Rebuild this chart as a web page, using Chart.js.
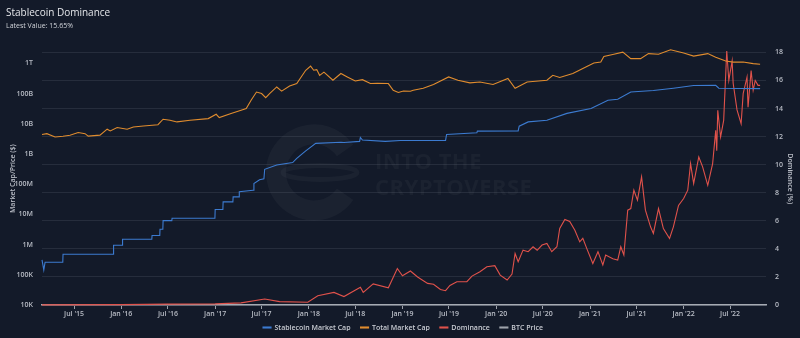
<!DOCTYPE html>
<html>
<head>
<meta charset="utf-8">
<title>Stablecoin Dominance</title>
<script src="https://cdn.jsdelivr.net/npm/chart.js@4.4.0/dist/chart.umd.min.js"></script>
<style>
  html, body { margin: 0; padding: 0; background: #131a29; }
  canvas { display: block; }
</style>
</head>
<body>
<canvas id="chart" width="800" height="338"></canvas>
<script>
// ---------- Data ----------
const stableDates = [
  '2015-02-26', '2015-03-05', '2015-03-10', '2015-05-18', '2015-05-19', '2015-12-01', '2015-12-02',
  '2016-01-05', '2016-01-06', '2016-04-29', '2016-04-30', '2016-05-30', '2016-05-31', '2016-06-11',
  '2016-06-12', '2016-07-16', '2016-07-17', '2016-12-31', '2017-01-01', '2017-01-31', '2017-02-01',
  '2017-03-11', '2017-03-12', '2017-04-04', '2017-04-05', '2017-05-29', '2017-06-01', '2017-06-23',
  '2017-07-10', '2017-07-13', '2017-08-29', '2017-10-30', '2017-11-15', '2017-12-20', '2018-01-28',
  '2018-05-06', '2018-05-18', '2018-07-18', '2018-07-21', '2018-07-29', '2018-10-26', '2018-12-24',
  '2019-06-18', '2019-06-22', '2019-10-18', '2019-10-20', '2020-03-27', '2020-03-31', '2020-05-05',
  '2020-07-17', '2020-10-03', '2021-01-05', '2021-03-12', '2021-04-19', '2021-06-09', '2021-09-05',
  '2021-11-22', '2022-02-09', '2022-05-06', '2022-05-18', '2022-10-26'
];
const stableCap = [
  3.1e5, 1.45e5, 2.6e5, 2.6e5, 4.8e5, 4.8e5, 9.5e5,
  9.5e5, 1.5e6, 1.5e6, 2.0e6, 2.0e6, 3.2e6, 3.2e6,
  6.2e6, 6.2e6, 7.4e6, 7.4e6, 1.45e7, 1.45e7, 2.6e7,
  2.6e7, 3.8e7, 3.8e7, 5.6e7, 6.3e7, 1.05e8, 1.4e8,
  1.5e8, 3.1e8, 4.3e8, 5.2e8, 7.1e8, 1.26e9, 2.24e9,
  2.45e9, 2.4e9, 2.6e9, 3.5e9, 2.9e9, 2.6e9, 2.8e9,
  2.8e9, 4.4e9, 5.0e9, 5.7e9, 5.8e9, 8.3e9, 1.15e10,
  1.3e10, 2.2e10, 3.2e10, 6.0e10, 6.5e10, 1.12e11, 1.26e11,
  1.5e11, 1.85e11, 1.86e11, 1.5e11, 1.45e11
];

const totalDates = [
  '2015-02-26', '2015-03-17', '2015-04-18', '2015-05-19', '2015-06-15', '2015-07-17', '2015-08-13',
  '2015-08-25', '2015-10-10', '2015-11-07', '2015-11-19', '2015-12-16', '2016-01-24', '2016-02-17',
  '2016-03-27', '2016-05-23', '2016-06-12', '2016-07-09', '2016-08-05', '2016-09-25', '2016-12-05',
  '2017-01-05', '2017-01-17', '2017-03-04', '2017-04-12', '2017-05-02', '2017-05-21', '2017-06-11',
  '2017-07-01', '2017-07-17', '2017-08-01', '2017-08-29', '2017-09-17', '2017-10-18', '2017-11-15',
  '2017-12-20', '2018-01-08', '2018-01-20', '2018-02-01', '2018-02-12', '2018-03-01', '2018-04-05',
  '2018-05-06', '2018-05-31', '2018-07-01', '2018-07-29', '2018-08-29', '2018-09-25', '2018-11-07',
  '2018-11-26', '2018-12-16', '2019-01-05', '2019-02-01', '2019-02-12', '2019-03-23', '2019-05-02',
  '2019-06-30', '2019-08-05', '2019-09-21', '2019-10-30', '2019-12-20', '2020-02-16', '2020-03-15',
  '2020-05-01', '2020-07-17', '2020-08-09', '2020-09-05', '2020-10-26', '2020-12-04', '2021-01-16',
  '2021-02-12', '2021-02-24', '2021-04-04', '2021-05-09', '2021-06-09', '2021-07-17', '2021-08-17',
  '2021-09-25', '2021-11-11', '2022-01-01', '2022-02-09', '2022-04-05', '2022-05-06', '2022-06-14',
  '2022-07-13', '2022-08-21', '2022-09-29', '2022-10-26'
];
const totalCap = [
  4.4e9, 4.7e9, 3.66e9, 3.86e9, 4.17e9, 5.1e9, 4.7e9,
  3.9e9, 4.2e9, 6.6e9, 5.76e9, 7.5e9, 6.6e9, 7.8e9,
  8.4e9, 9.3e9, 1.41e10, 1.3e10, 1.15e10, 1.3e10, 1.48e10,
  2.06e10, 1.6e10, 2.17e10, 2.8e10, 3.17e10, 5.98e10, 1.12e11,
  1.0e11, 7.3e10, 1.0e11, 1.65e11, 1.2e11, 1.78e11, 2.14e11,
  5.9e11, 8.1e11, 5.9e11, 6.2e11, 4.0e11, 5.1e11, 2.76e11,
  4.6e11, 3.55e11, 2.6e11, 2.88e11, 2.14e11, 2.2e11, 2.14e11,
  1.28e11, 1.08e11, 1.21e11, 1.19e11, 1.28e11, 1.5e11, 2.0e11,
  3.55e11, 2.76e11, 2.25e11, 2.4e11, 2.0e11, 3.16e11, 1.5e11,
  2.4e11, 2.76e11, 4.0e11, 3.4e11, 4.6e11, 6.7e11, 1.02e12,
  1.1e12, 1.7e12, 2.0e12, 2.35e12, 1.43e12, 1.43e12, 2.1e12,
  2.0e12, 2.8e12, 2.2e12, 1.74e12, 2.1e12, 1.6e12, 1.19e12,
  1.1e12, 1.1e12, 0.98e12, 0.93e12
];

const domDates = [
  '2015-02-26', '2016-01-01', '2016-07-01', '2017-01-01', '2017-04-12', '2017-07-13', '2017-09-09',
  '2017-12-28', '2018-02-05', '2018-04-09', '2018-05-18', '2018-07-21', '2018-08-01', '2018-09-09',
  '2018-11-07', '2018-12-12', '2019-01-01', '2019-02-01', '2019-03-01', '2019-04-09', '2019-05-02',
  '2019-05-29', '2019-06-18', '2019-07-05', '2019-08-01', '2019-09-09', '2019-09-29', '2019-10-30',
  '2019-11-26', '2019-12-27', '2020-01-17', '2020-02-13', '2020-03-03', '2020-03-15', '2020-03-27',
  '2020-04-15', '2020-05-05', '2020-05-24', '2020-06-09', '2020-06-28', '2020-07-17', '2020-08-05',
  '2020-08-25', '2020-09-05', '2020-09-25', '2020-10-14', '2020-11-03', '2020-11-22', '2020-12-04',
  '2020-12-20', '2021-01-12', '2021-02-01', '2021-02-20', '2021-03-03', '2021-03-31', '2021-04-19',
  '2021-05-01', '2021-05-13', '2021-05-28', '2021-06-09', '2021-06-21', '2021-07-05', '2021-07-21',
  '2021-08-05', '2021-08-25', '2021-09-05', '2021-09-25', '2021-10-14', '2021-11-07', '2021-11-22',
  '2021-12-12', '2022-01-01', '2022-01-17', '2022-01-28', '2022-02-09', '2022-03-01', '2022-03-16',
  '2022-04-05', '2022-04-24', '2022-05-06', '2022-05-10', '2022-05-14', '2022-05-25', '2022-06-06',
  '2022-06-18', '2022-06-26', '2022-07-09', '2022-07-13', '2022-07-28', '2022-08-13', '2022-08-21',
  '2022-09-05', '2022-09-09', '2022-09-21', '2022-09-29', '2022-10-07', '2022-10-18', '2022-10-26'
];
const dominance = [
  0.01, 0.03, 0.06, 0.08, 0.15, 0.43, 0.24,
  0.2, 0.66, 0.9, 0.6, 1.26, 0.9, 1.5,
  1.23, 2.6, 2.08, 2.42, 2.0, 1.54, 1.48,
  1.11, 1.02, 1.39, 1.66, 1.66, 2.06, 2.37,
  2.73, 2.8, 2.13, 1.78, 2.2, 3.67, 3.08,
  3.91, 3.8, 4.15, 3.9, 4.27, 4.39, 3.8,
  4.15, 5.45, 6.1, 5.95, 5.33, 4.5, 4.75,
  4.0, 2.96, 3.8, 2.85, 3.56, 3.3, 3.2,
  4.15, 3.56, 6.76, 6.87, 8.18, 7.47, 9.13,
  6.76, 5.57, 5.1, 6.87, 5.45, 4.74, 5.57,
  7.1, 7.59, 8.18, 10.08, 8.65, 10.55, 9.84,
  8.53, 10.08, 12.45, 11.0, 13.87, 11.97, 13.16,
  18.1, 16.0, 17.4, 15.8, 13.9, 12.92, 15.06,
  16.24, 14.1, 16.7, 15.3, 16.0, 15.65, 15.65
];

const xTickDates = [
  '2015-07-01', '2016-01-01', '2016-07-01', '2017-01-01', '2017-07-01', '2018-01-01', '2018-07-01',
  '2019-01-01', '2019-07-01', '2020-01-01', '2020-07-01', '2021-01-01', '2021-07-01', '2022-01-01', '2022-07-01'
];
const xTickLabels = [
  "Jul '15", "Jan '16", "Jul '16", "Jan '17", "Jul '17", "Jan '18", "Jul '18",
  "Jan '19", "Jul '19", "Jan '20", "Jul '20", "Jan '21", "Jul '21", "Jan '22", "Jul '22"
];
const capTicks = [1e4, 1e5, 1e6, 1e7, 1e8, 1e9, 1e10, 1e11, 1e12];
const capTickLabels = ['10K', '100K', '1M', '10M', '100M', '1B', '10B', '100B', '1T'];
const latestValue = '15.65%';

// ---------- Helpers ----------
function toPoints(dates, values) {
    return dates.map((d, i) => ({ x: Date.parse(d), y: values[i] }));
}

const tickColor = '#b9bdc6';
const tickFont = { family: 'Open Sans', size: 7, weight: '600' };

// faint "Into The Cryptoverse" logo behind the lines
const watermark = {
    id: 'watermark',
    beforeDatasetsDraw(chart) {
        const { ctx, chartArea } = chart;
        const cx = chartArea.left + 272;
        const cy = chartArea.top + 120;
        ctx.save();
        ctx.strokeStyle = 'rgba(255,255,255,0.035)';
        ctx.fillStyle = 'rgba(255,255,255,0.035)';
        ctx.lineWidth = 20;
        ctx.beginPath();
        ctx.arc(cx, cy, 38, 35 * Math.PI / 180, 325 * Math.PI / 180);
        ctx.stroke();
        ctx.lineWidth = 5;
        ctx.beginPath();
        ctx.ellipse(cx + 6, cy, 37, 7, 0, 0, Math.PI * 2);
        ctx.stroke();
        ctx.font = 'bold 22px "Open Sans"';
        ctx.letterSpacing = '0.5px';
        ctx.textBaseline = 'middle';
        ctx.fillText('INTO THE', cx + 61, cy - 10);
        ctx.fillText('CRYPTOVERSE', cx + 61, cy + 16);
        ctx.restore();
    }
};

// legend sits a bit closer to the axis than Chart.js stacks it
const legendLift = {
    id: 'legendLift',
    afterLayout(chart) {
        chart.legend.top -= 7;
        chart.legend.bottom -= 7;
    }
};

// ---------- Chart ----------
const ctx = document.getElementById('chart').getContext('2d');
new Chart(ctx, {
    type: 'line',
    data: {
        datasets: [
            {
                label: 'Stablecoin Market Cap',
                data: toPoints(stableDates, stableCap),
                yAxisID: 'y',
                borderColor: '#3c7bd0',
                backgroundColor: '#3c7bd0',
                borderWidth: 1.1,
                clip: false
            },
            {
                label: 'Total Market Cap',
                data: toPoints(totalDates, totalCap),
                yAxisID: 'y',
                borderColor: '#e08c2e',
                backgroundColor: '#e08c2e',
                borderWidth: 1.1,
                clip: false
            },
            {
                label: 'Dominance',
                data: toPoints(domDates, dominance),
                yAxisID: 'y1',
                borderColor: '#e0524b',
                backgroundColor: '#e0524b',
                borderWidth: 1.1,
                clip: false
            },
            {
                label: 'BTC Price',
                data: [],
                yAxisID: 'y',
                borderColor: '#9ea3ab',
                backgroundColor: '#9ea3ab',
                borderWidth: 1.1
            }
        ]
    },
    options: {
        responsive: false,
        animation: false,
        devicePixelRatio: 1,
        elements: { point: { radius: 0 }, line: { tension: 0 } },
        layout: { padding: { left: 6, right: 0, top: 0, bottom: 0 } },
        plugins: {
            title: {
                display: true,
                text: 'Stablecoin Dominance',
                align: 'start',
                color: '#e4e6ea',
                font: { family: 'Open Sans', size: 10, weight: 'normal' },
                padding: { top: 7, bottom: 0 }
            },
            subtitle: {
                display: true,
                text: 'Latest Value: ' + latestValue,
                align: 'start',
                color: '#d0d3d9',
                font: { family: 'Open Sans', size: 7, weight: 'normal' },
                padding: { top: 3, bottom: 22 }
            },
            legend: {
                position: 'bottom',
                maxHeight: 17,
                labels: {
                    color: '#c9ccd3',
                    font: { family: 'Open Sans', size: 7, weight: '600' },
                    boxWidth: 8,
                    boxHeight: 1,
                    padding: 10
                }
            },
            tooltip: { enabled: false }
        },
        scales: {
            x: {
                type: 'linear',
                min: Date.parse('2015-02-26'),
                max: Date.parse('2022-11-18'),
                afterBuildTicks: (scale) => {
                    scale.ticks = xTickDates.map(d => ({ value: Date.parse(d) }));
                },
                afterFit: (scale) => { scale.height = 16; },
                ticks: {
                    color: tickColor,
                    font: tickFont,
                    padding: 1,
                    maxRotation: 0,
                    autoSkip: false,
                    callback: (v, i) => xTickLabels[i]
                },
                grid: { display: true, drawOnChartArea: false, tickLength: 4, color: '#9ba0a9' },
                border: { display: true, color: '#a6abb3', width: 1.5 }
            },
            y: {
                type: 'logarithmic',
                position: 'left',
                min: 1e4,
                max: 2.3e12,
                afterBuildTicks: (scale) => {
                    scale.ticks = capTicks.map(v => ({ value: v }));
                },
                afterFit: (scale) => { scale.width = 36; },
                ticks: {
                    color: tickColor,
                    font: tickFont,
                    padding: 9,
                    autoSkip: false,
                    callback: (v, i) => capTickLabels[i]
                },
                grid: { display: false, drawTicks: false },
                border: { display: false },
                title: {
                    display: true,
                    text: 'Market Cap/Price ($)',
                    color: tickColor,
                    font: { family: 'Open Sans', size: 7, weight: '600' },
                    padding: { top: 3, bottom: 0 }
                }
            },
            y1: {
                type: 'linear',
                position: 'right',
                min: 0,
                max: 18,
                afterFit: (scale) => { scale.width = 34; },
                ticks: {
                    stepSize: 2,
                    color: tickColor,
                    font: tickFont,
                    padding: 9
                },
                grid: { color: '#262d3c', drawTicks: false },
                border: { display: false },
                title: {
                    display: true,
                    text: 'Dominance (%)',
                    color: tickColor,
                    font: { family: 'Open Sans', size: 7, weight: '600' },
                    padding: { top: 6, bottom: 0 }
                }
            }
        }
    },
    plugins: [watermark, legendLift]
});
</script>
</body>
</html>
